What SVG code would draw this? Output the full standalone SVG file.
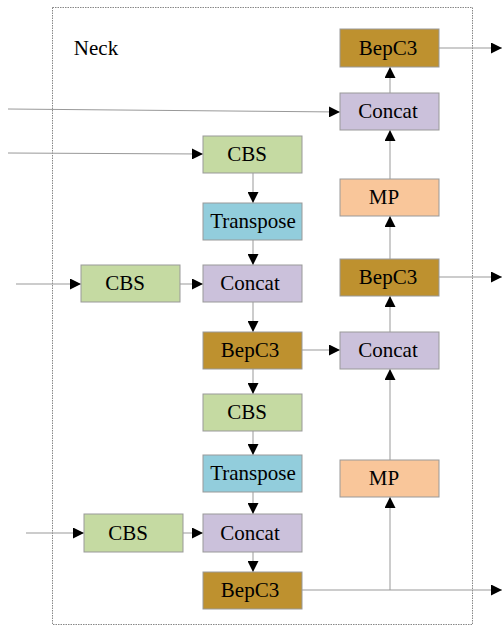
<svg xmlns="http://www.w3.org/2000/svg" width="502" height="626" viewBox="0 0 502 626">
<style>
text{font-family:"Liberation Serif","Times New Roman",serif;font-size:21px;fill:#000;text-anchor:middle}
.n rect{stroke:#999;stroke-width:1}
.bep{fill:#BE912F}.cat{fill:#CBC1DB}.cbs{fill:#C5DAA2}.tr{fill:#92CDDC}.mp{fill:#F9C69A}
#edges path{fill:none;stroke:#999;stroke-width:1;marker-end:url(#ah)}
</style>
<defs>
<marker id="ah" viewBox="0 0 11 11" refX="11" refY="5.5" markerWidth="11" markerHeight="11" markerUnits="userSpaceOnUse" orient="auto">
<path d="M0,0 L11,5.5 L0,11 z" fill="#000"/>
</marker>
</defs>
<rect x="52.5" y="7.5" width="420" height="617" fill="none" stroke="#888" stroke-width="1" stroke-dasharray="1.5,1"/>
<text x="96" y="55">Neck</text>
<g id="edges">
<path d="M439,48 H502"/>
<path d="M8,109 L340,112"/>
<path d="M8,153 L203,154"/>
<path d="M390,93 V67"/>
<path d="M390,179 V130"/>
<path d="M390,259 V216"/>
<path d="M390,332 V296"/>
<path d="M390,460 V369"/>
<path d="M439,277 H502"/>
<path d="M253,173 V203"/>
<path d="M253,240 V265"/>
<path d="M16,284 H81"/>
<path d="M180,284 H203"/>
<path d="M253,302 V332"/>
<path d="M302,350 H340"/>
<path d="M253,369 V394"/>
<path d="M253,431 V455"/>
<path d="M253,492 V514"/>
<path d="M26,533 H84"/>
<path d="M183,533 H203"/>
<path d="M253,552 V572"/>
<path d="M302,590 H502"/>
<path d="M390,590 V497"/>
</g>
<g id="bepc3_top" class="n"><rect class="bep" x="340" y="29" width="99" height="38"/><text x="388" y="55">BepC3</text></g>
<g id="concat_top" class="n"><rect class="cat" x="340" y="93" width="99" height="37"/><text x="388" y="118">Concat</text></g>
<g id="mp_top" class="n"><rect class="mp" x="340" y="179" width="99" height="37"/><text x="384" y="204">MP</text></g>
<g id="bepc3_right" class="n"><rect class="bep" x="340" y="259" width="99" height="37"/><text x="388" y="284">BepC3</text></g>
<g id="concat_right" class="n"><rect class="cat" x="340" y="332" width="99" height="37"/><text x="388" y="357">Concat</text></g>
<g id="mp_bottom" class="n"><rect class="mp" x="340" y="460" width="99" height="37"/><text x="384" y="485">MP</text></g>
<g id="cbs_1" class="n"><rect class="cbs" x="203" y="136" width="99" height="37"/><text x="247" y="161">CBS</text></g>
<g id="transpose_1" class="n"><rect class="tr" x="203" y="203" width="99" height="37"/><text x="253" y="228">Transpose</text></g>
<g id="cbs_left_1" class="n"><rect class="cbs" x="81" y="265" width="99" height="37"/><text x="125" y="290">CBS</text></g>
<g id="concat_1" class="n"><rect class="cat" x="203" y="265" width="99" height="37"/><text x="250" y="290">Concat</text></g>
<g id="bepc3_mid" class="n"><rect class="bep" x="203" y="332" width="99" height="37"/><text x="250" y="357">BepC3</text></g>
<g id="cbs_2" class="n"><rect class="cbs" x="203" y="394" width="99" height="37"/><text x="247" y="419">CBS</text></g>
<g id="transpose_2" class="n"><rect class="tr" x="203" y="455" width="99" height="37"/><text x="253" y="480">Transpose</text></g>
<g id="cbs_left_2" class="n"><rect class="cbs" x="84" y="514" width="99" height="38"/><text x="128" y="540">CBS</text></g>
<g id="concat_2" class="n"><rect class="cat" x="203" y="514" width="99" height="38"/><text x="250" y="540">Concat</text></g>
<g id="bepc3_bottom" class="n"><rect class="bep" x="203" y="572" width="99" height="37"/><text x="250" y="597">BepC3</text></g>
</svg>
